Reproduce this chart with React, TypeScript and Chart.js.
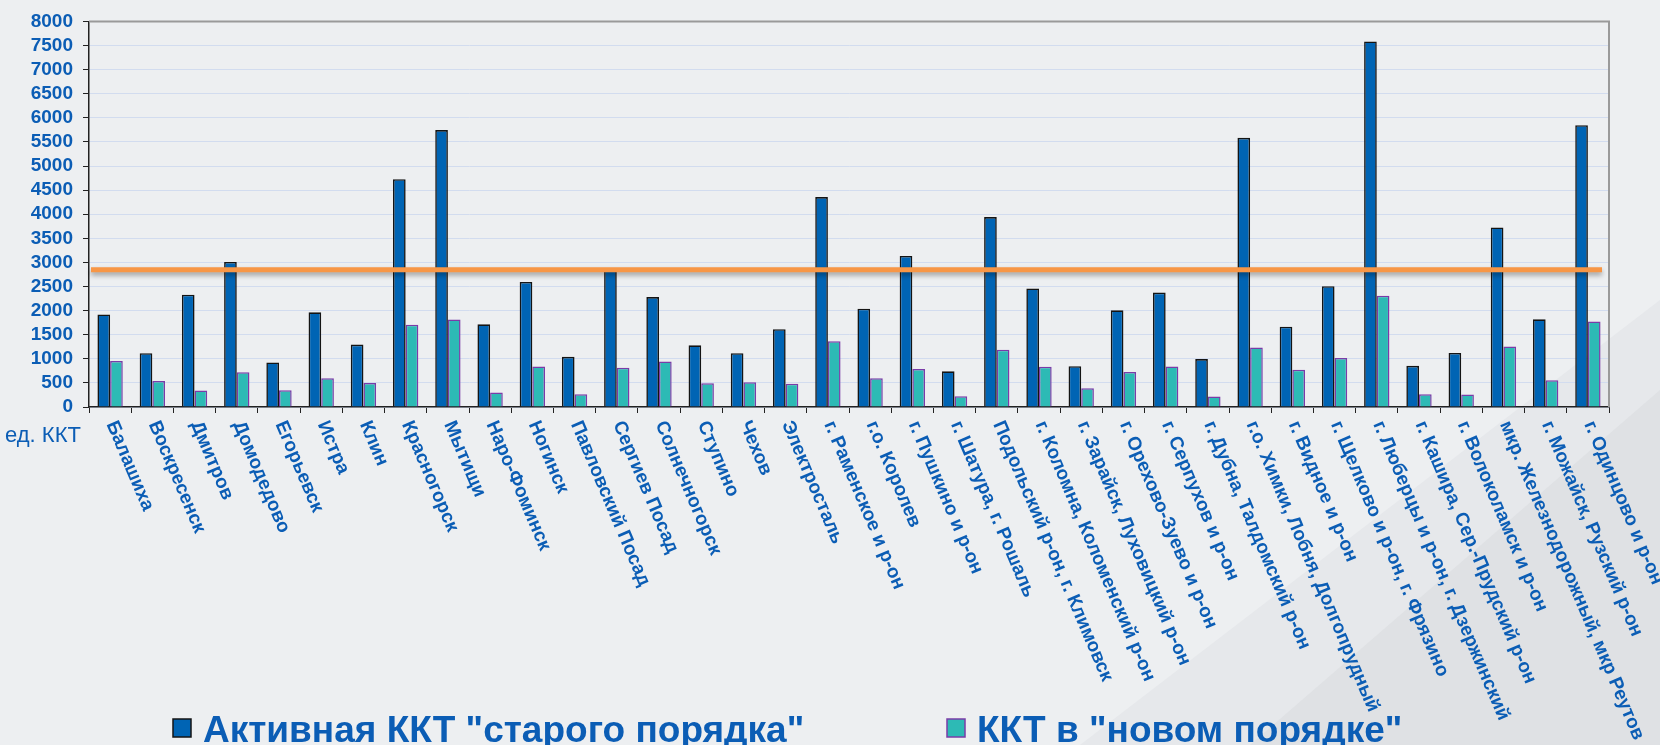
import React, { useEffect, useRef } from "react";
import { Chart, registerables } from "chart.js";

Chart.register(...registerables);

const categories: string[] = [
  "Балашиха",
  "Воскресенск",
  "Дмитров",
  "Домодедово",
  "Егорьевск",
  "Истра",
  "Клин",
  "Красногорск",
  "Мытищи",
  "Наро-Фоминск",
  "Ногинск",
  "Павловский Посад",
  "Сергиев Посад",
  "Солнечногорск",
  "Ступино",
  "Чехов",
  "Электросталь",
  "г. Раменское и р-он",
  "г.о. Королев",
  "г. Пушкино и р-он",
  "г. Шатура, г. Рошаль",
  "Подольский р-он, г. Климовск",
  "г. Коломна, Коломенский р-он",
  "г. Зарайск, Луховицкий р-он",
  "г. Орехово-Зуево и р-он",
  "г. Серпухов и р-он",
  "г. Дубна, Талдомский р-он",
  "г.о. Химки, Лобня, Долгопрудный",
  "г. Видное и р-он",
  "г. Щелково и р-он, г. Фрязино",
  "г. Люберцы и р-он, г. Дзержинский",
  "г. Кашира, Сер.-Прудский р-он",
  "г. Волоколамск и р-он",
  "мкр. Железнодорожный, мкр Реутов",
  "г. Можайск, Рузский р-он",
  "г. Одинцово и р-он",
];

const oldOrderValues: number[] = [
  1920, 1115, 2330, 3010, 925, 1965, 1295, 4725, 5745, 1715, 2595, 1040, 2880,
  2280, 1280, 1115, 1615, 4355, 2040, 3135, 740, 3940, 2460, 845, 2005, 2375,
  995, 5585, 1665, 2505, 7585, 855, 1120, 3725, 1820, 5845,
];

const newOrderValues: number[] = [
  955, 540, 340, 720, 345, 595, 500, 1705, 1815, 300, 840, 265, 815, 945, 495,
  515, 480, 1365, 595, 790, 225, 1190, 835, 390, 725, 840, 220, 1235, 775, 1015,
  2310, 265, 260, 1255, 555, 1775,
];

const seriesNames: string[] = ['Активная ККТ "старого порядка"', 'ККТ в "новом порядке"'];
const thresholdValue = 2850;
const yTicksMax = 8000;
const yTicksStep = 500;
const unitLabel = "ед. ККТ";

const FONT = '"Liberation Sans", Arial, sans-serif';
const TEXT_BLUE = "#0B5DB5";
const BG = "#EDEFF1";

export default function App() {
  const canvasRef = useRef<HTMLCanvasElement | null>(null);

  useEffect(() => {
    document.body.style.margin = "0";
    document.body.style.background = BG;
    const canvas = canvasRef.current;
    if (!canvas) return;

    const backgroundPlugin = {
      id: "bgShapes",
      beforeDraw(chart: any) {
        const { ctx, width, height } = chart;
        ctx.save();
        ctx.fillStyle = BG;
        ctx.fillRect(0, 0, width, height);
        ctx.fillStyle = "#E6E8EB";
        ctx.beginPath();
        ctx.moveTo(1080, height);
        ctx.lineTo(width, 300);
        ctx.lineTo(width, height);
        ctx.closePath();
        ctx.fill();
        ctx.fillStyle = "#DFE1E4";
        ctx.beginPath();
        ctx.moveTo(1250, height);
        ctx.lineTo(width, 390);
        ctx.lineTo(width, height);
        ctx.closePath();
        ctx.fill();
        ctx.restore();
      },
    };

    const framePlugin = {
      id: "frame",
      beforeDatasetsDraw(chart: any) {
        const { ctx, chartArea } = chart;
        ctx.save();
        ctx.strokeStyle = "#9A9A9A";
        ctx.lineWidth = 2;
        ctx.beginPath();
        ctx.moveTo(chartArea.left, chartArea.top);
        ctx.lineTo(chartArea.right, chartArea.top);
        ctx.lineTo(chartArea.right, chartArea.bottom);
        ctx.stroke();
        ctx.restore();
      },
    };

    const thresholdPlugin = {
      id: "threshold",
      afterDatasetsDraw(chart: any) {
        const { ctx, chartArea } = chart;
        const y = chart.scales.y.getPixelForValue(thresholdValue);
        ctx.save();
        ctx.shadowColor = "rgba(0,0,0,0.35)";
        ctx.shadowBlur = 5;
        ctx.shadowOffsetY = 3;
        ctx.strokeStyle = "#F79646";
        ctx.lineWidth = 5;
        ctx.beginPath();
        ctx.moveTo(chartArea.left + 2, y);
        ctx.lineTo(chartArea.right - 7, y);
        ctx.stroke();
        ctx.restore();
      },
    };

    const labelsPlugin = {
      id: "rotLabels",
      afterDraw(chart: any) {
        const { ctx, chartArea } = chart;
        const xs = chart.scales.x;
        ctx.save();
        ctx.fillStyle = TEXT_BLUE;
        ctx.font = `bold 19px ${FONT}`;
        ctx.textAlign = "left";
        ctx.textBaseline = "middle";
        const angle = (67 * Math.PI) / 180;
        categories.forEach((lab, i) => {
          const x = xs.getPixelForValue(i);
          const y = chartArea.bottom + 15;
          ctx.save();
          ctx.translate(x + 1, y);
          ctx.rotate(angle);
          ctx.fillText(lab, 0, 0);
          ctx.restore();
        });
        // unit label
        ctx.font = `22px ${FONT}`;
        ctx.textBaseline = "middle";
        ctx.fillText(unitLabel, 5, chartArea.bottom + 29);

        // legend
        const ds = chart.data.datasets;
        const items = [
          { x: 173, text: seriesNames[0], ds: ds[0] },
          { x: 947, text: seriesNames[1], ds: ds[1] },
        ];
        ctx.font = `bold 37px ${FONT}`;
        ctx.textBaseline = "alphabetic";
        items.forEach((it) => {
          ctx.fillStyle = it.ds.backgroundColor;
          ctx.fillRect(it.x, 719, 18, 18);
          ctx.strokeStyle = it.ds.borderColor;
          ctx.lineWidth = 1.5;
          ctx.strokeRect(it.x, 719, 18, 18);
          ctx.fillStyle = TEXT_BLUE;
          ctx.fillText(it.text, it.x + 30, 742);
        });
        ctx.restore();
      },
    };

    const chart = new Chart(canvas, {
      type: "bar",
      data: {
        labels: categories,
        datasets: [
          {
            label: seriesNames[0],
            data: oldOrderValues,
            backgroundColor: "#0064B4",
            borderColor: "#141414",
            borderWidth: 1.6,
            categoryPercentage: 0.6,
            barPercentage: 1.0,
          },
          {
            label: seriesNames[1],
            data: newOrderValues,
            backgroundColor: "#2DBAB5",
            borderColor: "#7A3CA8",
            borderWidth: 1.5,
            categoryPercentage: 0.6,
            barPercentage: 1.0,
          },
        ],
      },
      options: {
        animation: false,
        responsive: false,
        maintainAspectRatio: false,
        layout: { padding: { left: 0, top: 17, right: 51, bottom: 328 } },
        plugins: {
          legend: { display: false },
          tooltip: { enabled: false },
        },
        scales: {
          x: {
            type: "category",
            afterFit(scale: any) {
              scale.height = 10;
            },
            grid: {
              display: true,
              drawOnChartArea: false,
              drawTicks: true,
              tickLength: 6,
              tickColor: "#222",
              offset: true,
            },
            border: { color: "#222", width: 1.5 },
            ticks: { display: false },
          },
          y: {
            min: 0,
            max: yTicksMax,
            afterFit(scale: any) {
              scale.width = 89;
            },
            ticks: {
              stepSize: yTicksStep,
              maxTicksLimit: 40,
              autoSkip: false,
              color: TEXT_BLUE,
              font: { family: FONT, size: 19, weight: "bold" },
              padding: 10,
              callback: (v: any) => String(v),
            },
            grid: {
              color: (c: any) => (c.tick && c.tick.value === yTicksMax ? "rgba(0,0,0,0)" : "#D2DCEF"),
              lineWidth: 1,
              tickLength: 6,
              tickColor: "#222",
            },
            border: { color: "#222", width: 1.5 },
          },
        },
      },
      plugins: [backgroundPlugin, framePlugin, thresholdPlugin, labelsPlugin],
    });

    return () => {
      chart.destroy();
    };
  }, []);

  return (
    <div style={{ width: 1660, height: 745, background: BG }}>
      <canvas ref={canvasRef} width={1660} height={745} style={{ display: "block" }} />
    </div>
  );
}
